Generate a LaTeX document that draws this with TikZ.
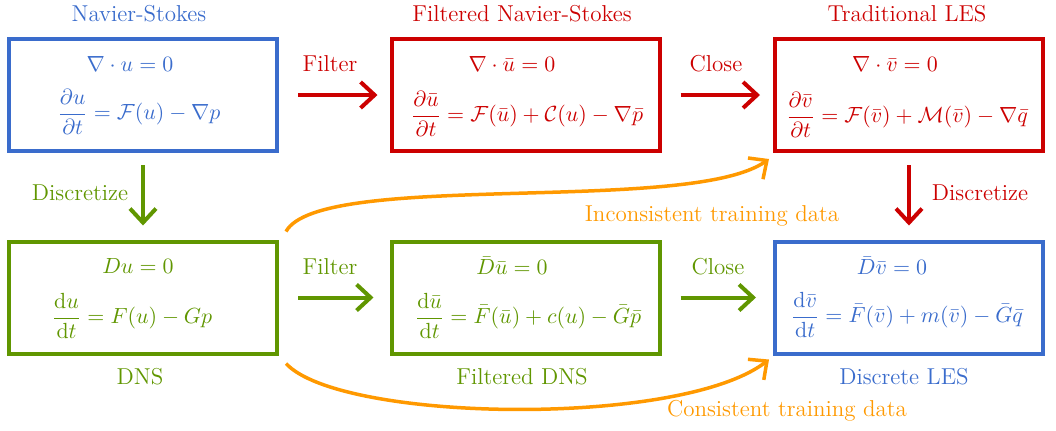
\documentclass[tikz,border=0pt]{standalone}
\usepackage{amsmath}
\usetikzlibrary{arrows.meta}

\definecolor{nsblue}{RGB}{58,108,204}
\definecolor{lesred}{RGB}{204,0,0}
\definecolor{dnsgreen}{RGB}{96,150,0}
\definecolor{dataorange}{RGB}{255,153,0}

\begin{document}
\begin{tikzpicture}[x=0.5pt,y=-0.5pt,
  box/.style={draw,line width=2pt,minimum width=134pt,minimum height=56pt,inner sep=0pt},
  eqn/.style={inner sep=0pt,font=\fontsize{11}{13}\selectfont},
  lbl/.style={inner sep=0pt,font=\fontsize{11.5}{13.5}\selectfont},
  flow/.style={line width=2pt,-{Straight Barb[length=7pt,width=13pt]}},
  datapath/.style={line width=1.75pt,draw=dataorange,-{Straight Barb[length=7pt,width=13pt]}},
]
\useasboundingbox (0,0) rectangle (1056,430);

% ---- continuous models (top row) ----
\node[box,draw=nsblue]  (ns)   at (143,95)   {};
\node[box,draw=lesred]  (fns)  at (525.5,95) {};
\node[box,draw=lesred]  (tles) at (909,95)   {};

% ---- discrete models (bottom row) ----
\node[box,draw=dnsgreen] (dns)  at (143,297.5)   {};
\node[box,draw=dnsgreen] (fdns) at (525.5,297.5) {};
\node[box,draw=nsblue]   (les)  at (909,297.5)   {};

% ---- equations ----
\node[eqn,text=nsblue] (ns1) at (130,64) {$\nabla\cdot u = 0$};
\node[eqn,text=nsblue] (ns2) at (139,112) {$\dfrac{\partial u}{\partial t} = \mathcal{F}(u) - \nabla p$};

\node[eqn,text=lesred] (fns1) at (512,64) {$\nabla\cdot\bar{u} = 0$};
\node[eqn,text=lesred] (fns2) at (527,114) {$\dfrac{\partial\bar{u}}{\partial t} = \mathcal{F}(\bar{u}) + \mathcal{C}(u) - \nabla\bar{p}$};

\node[eqn,text=lesred] (tles1) at (895,64) {$\nabla\cdot\bar{v} = 0$};
\node[eqn,text=lesred] (tles2) at (907,115) {$\dfrac{\partial\bar{v}}{\partial t} = \mathcal{F}(\bar{v}) + \mathcal{M}(\bar{v}) - \nabla\bar{q}$};

\node[eqn,text=dnsgreen] (dns1) at (138,266) {$Du = 0$};
\node[eqn,text=dnsgreen] (dns2) at (132,316) {$\dfrac{\mathrm{d}u}{\mathrm{d}t} = F(u) - Gp$};

\node[eqn,text=dnsgreen] (fdns1) at (512,266) {$\bar{D}\bar{u} = 0$};
\node[eqn,text=dnsgreen] (fdns2) at (528,316) {$\dfrac{\mathrm{d}\bar{u}}{\mathrm{d}t} = \bar{F}(\bar{u}) + c(u) - \bar{G}\bar{p}$};

\node[eqn,text=nsblue] (les1) at (892,266) {$\bar{D}\bar{v} = 0$};
\node[eqn,text=nsblue] (les2) at (907,315) {$\dfrac{\mathrm{d}\bar{v}}{\mathrm{d}t} = \bar{F}(\bar{v}) + m(\bar{v}) - \bar{G}\bar{q}$};

% ---- titles ----
\node[lbl,text=nsblue] (tns)   at (139,14) {Navier-Stokes};
\node[lbl,text=lesred] (tfns)  at (522,14) {Filtered Navier-Stokes};
\node[lbl,text=lesred] (ttles) at (907,14) {Traditional LES};
\node[lbl,text=dnsgreen] (tdns)  at (140,377) {DNS};
\node[lbl,text=dnsgreen] (tfdns) at (522,377) {Filtered DNS};
\node[lbl,text=nsblue]   (tdles) at (904,377) {Discrete LES};

% ---- operations ----
\draw[flow,draw=lesred] ([xshift=9.5pt]ns.east) -- ([xshift=-6pt]fns.west);
\node[lbl,text=lesred] (filt1) at (330,64) {Filter};
\draw[flow,draw=lesred] ([xshift=9.5pt]fns.east) -- ([xshift=-6.5pt]tles.west);
\node[lbl,text=lesred] (clos1) at (716,64) {Close};

\draw[flow,draw=dnsgreen] ([xshift=9.5pt]dns.east) -- ([xshift=-8pt]fdns.west);
\node[lbl,text=dnsgreen] (filt2) at (330,267) {Filter};
\draw[flow,draw=dnsgreen] ([xshift=9.5pt]fdns.east) -- ([xshift=-8.5pt]les.west);
\node[lbl,text=dnsgreen] (clos2) at (718,267) {Close};

\draw[flow,draw=dnsgreen] ([yshift=-6pt]ns.south) -- ([yshift=7pt]dns.north);
\node[lbl,text=dnsgreen] (disc1) at (80,193) {Discretize};
\draw[flow,draw=lesred] ([yshift=-6pt]tles.south) -- ([yshift=7pt]les.north);
\node[lbl,text=lesred] (disc2) at (980,193) {Discretize};

% ---- training data paths ----
\draw[datapath] ([shift={(7,-8)}]dns.north east)
  .. controls (320,170) and (690,215) .. ([shift={(-4,6)}]tles.south west);
\node[lbl,text=dataorange] (incons) at (712,216) {Inconsistent training data};

\draw[datapath] ([shift={(7,8)}]dns.south east)
  .. controls (340,422) and (680,428) .. ([shift={(-4,4)}]les.south west);
\node[lbl,text=dataorange] (cons) at (787,411) {Consistent training data};
\end{tikzpicture}
\end{document}
